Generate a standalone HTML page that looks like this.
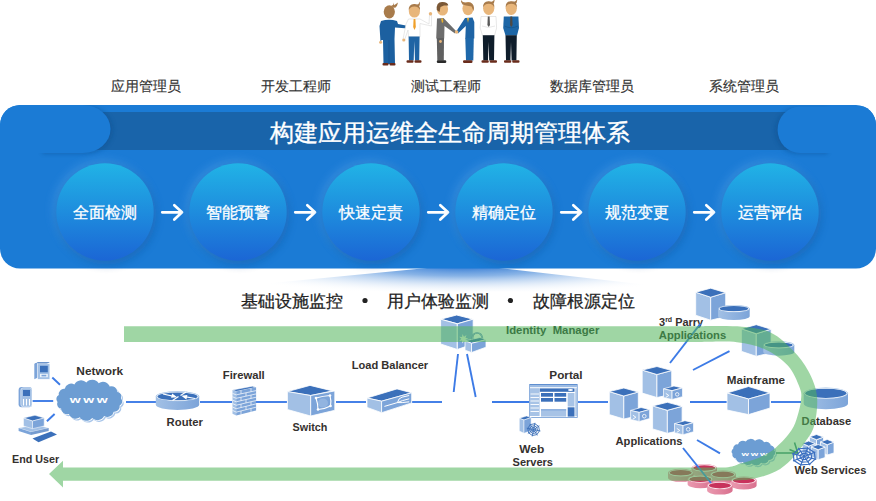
<!DOCTYPE html>
<html><head><meta charset="utf-8"><style>
html,body{margin:0;padding:0;background:#fff;width:876px;height:501px;overflow:hidden}
svg{display:block;font-family:"Liberation Sans",sans-serif}
</style></head><body>
<svg width="876" height="501" viewBox="0 0 876 501">
<path d="M381,21 Q389,18.5 397,21 L398,24 L408.5,26 L408,28.5 L395,27.5 L394.5,39 L395,64 L383.5,64 L383,40 L381.5,40 L380.5,42 L379.5,26 Z" fill="#1c60a0"/><circle cx="408.8" cy="26.2" r="1.6" fill="#e8b67b"/><circle cx="380.6" cy="42.3" r="1.5" fill="#e8b67b"/><line x1="389" y1="40" x2="389" y2="64" stroke="#174f86" stroke-width="0.6"/><rect x="382.5" y="63" width="6.0" height="2.6" rx="1" fill="#6a2c1c"/><rect x="389.5" y="63" width="6.0" height="2.6" rx="1" fill="#6a2c1c"/><ellipse cx="389.3" cy="11.8" rx="5.6" ry="6.6" fill="#a87b4b"/><path d="M391.3,5.800000000000001 Q394.3,4.800000000000001 393.425,2.3000000000000007 Q395.3,6.800000000000001 393.3,7.800000000000001 Z" fill="#a87b4b"/><path d="M392,6 Q395,5 398,2.5 Q397.5,6.5 395,8 Z" fill="#a87b4b"/><path d="M408.5,19 L420,19 L429,24 L429.5,15 L431.5,15 L431.5,26 L420,23.5 L420,37 L408.5,37 L408,30 L404.5,40 L403,39.5 L406,24 Z" fill="#fff" stroke="#d8d8d8" stroke-width="0.6"/><circle cx="430.5" cy="13.8" r="1.7" fill="#e8b67b"/><circle cx="403.8" cy="40" r="1.6" fill="#e8b67b"/><path d="M413.6,19 L415.4,19 L415.8,27 L414.5,30 L413.2,27 Z" fill="#f0a02a"/><path d="M408.6,36.5 L419.6,36.5 L419.2,60.5 L415,60.5 L414.3,41 L413.7,60.5 L409,60.5 Z" fill="#1f64a4"/><rect x="406.5" y="60.2" width="7.0" height="2.6" rx="1" fill="#6a2c1c"/><rect x="414.5" y="60.2" width="7.0" height="2.6" rx="1" fill="#6a2c1c"/><ellipse cx="414.4" cy="11" rx="5.6" ry="6.6" fill="#e8b67b"/><path d="M408.79999999999995,10.5 Q408.4,3.8 414.4,4 Q420.4,3.8 420.0,10.5 Q418.9,6.5 414.4,6.4 Q409.9,6.5 408.79999999999995,10.5 Z" fill="#a87b4b"/><path d="M416.4,5 Q419.4,4 419.65,1.5 Q420.4,6 418.4,7 Z" fill="#a87b4b"/><path d="M437,18.5 L443.5,18 L456,31 L455,33.5 L444.5,26 L444.2,38.5 L436.2,38.5 Z" fill="#6d6d6d"/><path d="M436.8,38 L444,38 L443.8,60.5 L437.3,60.5 Z" fill="#606060"/><path d="M441,18.5 L443,18.5 L443.3,22 L442,23 Z" fill="#e8b030"/><circle cx="440.5" cy="41.5" r="1.4" fill="#e8b67b"/><rect x="436.8" y="60.3" width="9.5" height="2.6" rx="1.2" fill="#2a2a2a"/><ellipse cx="442.5" cy="9" rx="5.6" ry="6.6" fill="#e8b67b"/><path d="M436.8,10 Q436,2 442,2 Q448,1.8 448.3,5.5 L444,5.5 L440.5,7 L439.5,12 Z" fill="#7b5836"/><path d="M465,18 L472.5,17.5 L474.3,22 L474.3,38.5 L465.3,38.5 L465.8,26 L458,33.5 L456.5,31 Z" fill="#1e64a5"/><path d="M465.3,38 L473.8,38 L473.3,60.5 L466,60.5 Z" fill="#1f68aa"/><circle cx="456.6" cy="32" r="1.8" fill="#e8b67b"/><path d="M467,18 L469,18 L468,23 Z" fill="#e8b030"/><rect x="463" y="60.3" width="9.5" height="2.6" rx="1.2" fill="#6a2c1c"/><ellipse cx="468" cy="8.6" rx="5.6" ry="6.6" fill="#e8b67b"/><path d="M462.5,4.5 Q460.5,2 461,0 Q463,3.3 467,2.4 Q473.5,1.8 474,8 L473.5,11 L471.5,6.5 L466,5.5 Z" fill="#a87b4b"/><path d="M481,16.5 L496,16.5 L496.6,28 L494.5,35.5 L482.5,35.5 L480.2,28 Z" fill="#fff" stroke="#d6d6d6" stroke-width="0.6"/><path d="M482,26 Q488.5,29 495,26" stroke="#e2e2e2" stroke-width="0.8" fill="none"/><path d="M487.8,16.5 L489.6,16.5 L490,25 L488.7,27 L487.4,25 Z" fill="#5a5a5a"/><path d="M482.8,35.3 L494.4,35.3 L494,60.5 L489.2,60.5 L488.6,42 L488,60.5 L483.3,60.5 Z" fill="#0f1d2b"/><rect x="481.5" y="60.2" width="7.25" height="2.6" rx="1" fill="#6a2c1c"/><rect x="489.75" y="60.2" width="7.25" height="2.6" rx="1" fill="#6a2c1c"/><ellipse cx="488.7" cy="8.3" rx="5.6" ry="6.6" fill="#e8b67b"/><path d="M483.09999999999997,7.800000000000001 Q482.7,1.1000000000000005 488.7,1.3000000000000007 Q494.7,1.1000000000000005 494.3,7.800000000000001 Q493.2,3.8000000000000007 488.7,3.700000000000001 Q484.2,3.8000000000000007 483.09999999999997,7.800000000000001 Z" fill="#a87b4b"/><path d="M490.7,2.3000000000000007 Q493.7,1.3000000000000007 494.7,-1.1999999999999993 Q494.7,3.3000000000000007 492.7,4.300000000000001 Z" fill="#a87b4b"/><path d="M503.8,16.5 L518.4,16.5 L519,28 L517,35.5 L505.5,35.5 L503.2,28 Z" fill="#1d66a6"/><path d="M504.5,26 Q511,29.5 518,26" stroke="#17558c" stroke-width="0.8" fill="none"/><path d="M510.4,16.5 L512.2,16.5 L512.6,25 L511.3,27 L510,25 Z" fill="#4f4a44"/><path d="M505.5,35.3 L516.8,35.3 L516.4,60.5 L511.6,60.5 L511,42 L510.4,60.5 L506,60.5 Z" fill="#0f1d2b"/><rect x="504" y="60.2" width="7.25" height="2.6" rx="1" fill="#6a2c1c"/><rect x="512.25" y="60.2" width="7.25" height="2.6" rx="1" fill="#6a2c1c"/><ellipse cx="511.3" cy="8.3" rx="5.6" ry="6.6" fill="#e8b67b"/><path d="M505.7,7.800000000000001 Q505.3,1.1000000000000005 511.3,1.3000000000000007 Q517.3,1.1000000000000005 516.9,7.800000000000001 Q515.8,3.8000000000000007 511.3,3.700000000000001 Q506.8,3.8000000000000007 505.7,7.800000000000001 Z" fill="#a87b4b"/><path d="M513.3,2.3000000000000007 Q516.3,1.3000000000000007 517.3,-1.1999999999999993 Q517.3,3.3000000000000007 515.3,4.300000000000001 Z" fill="#a87b4b"/>
<text x="146" y="91" font-size="14" font-weight="normal" fill="#333" text-anchor="middle" stroke="#333" stroke-width="0.15">应用管理员</text>
<text x="296" y="91" font-size="14" font-weight="normal" fill="#333" text-anchor="middle" stroke="#333" stroke-width="0.15">开发工程师</text>
<text x="446" y="91" font-size="14" font-weight="normal" fill="#333" text-anchor="middle" stroke="#333" stroke-width="0.15">测试工程师</text>
<text x="592" y="91" font-size="14" font-weight="normal" fill="#333" text-anchor="middle" stroke="#333" stroke-width="0.15">数据库管理员</text>
<text x="744" y="91" font-size="14" font-weight="normal" fill="#333" text-anchor="middle" stroke="#333" stroke-width="0.15">系统管理员</text>
<defs>
<linearGradient id="circ" x1="0" y1="0" x2="0" y2="1"><stop offset="0" stop-color="#21b3e6"/><stop offset="1" stop-color="#1b66d5"/></linearGradient>
<filter id="sh" x="-50%" y="-50%" width="200%" height="200%"><feGaussianBlur stdDeviation="4"/></filter>
<filter id="sh2" x="-50%" y="-50%" width="200%" height="200%"><feGaussianBlur stdDeviation="2"/></filter>
<linearGradient id="beam" x1="0" y1="0" x2="0" y2="1"><stop offset="0" stop-color="#7fb0e6"/><stop offset="1" stop-color="#ffffff" stop-opacity="0"/></linearGradient>
<radialGradient id="beamh" cx="0.5" cy="0" r="0.6"><stop offset="0" stop-color="#6aa2e0" stop-opacity="0.9"/><stop offset="1" stop-color="#ffffff" stop-opacity="0"/></radialGradient>
</defs>
<defs><radialGradient id="bm" gradientUnits="userSpaceOnUse" cx="463" cy="266" r="260" gradientTransform="translate(463 266) scale(1 0.11) translate(-463 -266)"><stop offset="0" stop-color="#2f78d4" stop-opacity="1"/><stop offset="0.35" stop-color="#6aa0e0" stop-opacity="0.8"/><stop offset="1" stop-color="#ffffff" stop-opacity="0"/></radialGradient></defs>
<polygon points="427,268 499,268 705,291.5 185,291.5" fill="url(#bm)"/>
<rect x="0" y="105" width="876" height="163.5" rx="20" fill="#1b7bd5"/>
<rect x="90" y="112" width="700" height="38" fill="#1964aa"/>
<defs><clipPath id="pc"><rect x="0" y="105" width="876" height="163.5" rx="20"/></clipPath></defs>
<g clip-path="url(#pc)">
<path d="M40,105 L83,105 A27.5,24 0 0 1 83,153 L40,153 Z" fill="#0d4f8e" opacity="0.45" filter="url(#sh2)" transform="translate(2.5,0.8)"/>
<path d="M20,105 L83,105 A27.5,24 0 0 1 83,153 L0,153 L0,125 A20,20 0 0 1 20,105 Z" fill="#1b7bd5"/>
<path d="M800,107 L830,107 L830,153 L800,153 A22.4,23 0 0 1 800,107 Z" fill="#0d4f8e" opacity="0.45" filter="url(#sh2)" transform="translate(-2.5,0.8)"/>
<path d="M800,106.5 L876,106.5 L876,153 L800,153 A22.4,23.25 0 0 1 800,106.5 Z" fill="#1b7bd5"/>
</g>
<text x="450" y="141" font-size="24" font-weight="normal" fill="#fff" text-anchor="middle" stroke="#fff" stroke-width="0.35">构建应用运维全生命周期管理体系</text>
<circle cx="103" cy="210" r="50" fill="#5aa8ee" opacity="0.45" filter="url(#sh)"/>
<circle cx="106.5" cy="215" r="49.5" fill="#0c4f9a" opacity="0.45" filter="url(#sh)"/>
<circle cx="105" cy="212" r="48.7" fill="url(#circ)"/>
<text x="105" y="218" font-size="16" font-weight="normal" fill="#fff" text-anchor="middle" stroke="#fff" stroke-width="0.3">全面检测</text>
<path d="M162.2,212.3 L182,212.3 M174.3,205.2 L182,212.3 L174.3,219.6" stroke="#fff" stroke-width="2.7" fill="none" stroke-linecap="round" stroke-linejoin="round"/>
<circle cx="236" cy="210" r="50" fill="#5aa8ee" opacity="0.45" filter="url(#sh)"/>
<circle cx="239.5" cy="215" r="49.5" fill="#0c4f9a" opacity="0.45" filter="url(#sh)"/>
<circle cx="238" cy="212" r="48.7" fill="url(#circ)"/>
<text x="238" y="218" font-size="16" font-weight="normal" fill="#fff" text-anchor="middle" stroke="#fff" stroke-width="0.3">智能预警</text>
<path d="M295.2,212.3 L315,212.3 M307.3,205.2 L315,212.3 L307.3,219.6" stroke="#fff" stroke-width="2.7" fill="none" stroke-linecap="round" stroke-linejoin="round"/>
<circle cx="369" cy="210" r="50" fill="#5aa8ee" opacity="0.45" filter="url(#sh)"/>
<circle cx="372.5" cy="215" r="49.5" fill="#0c4f9a" opacity="0.45" filter="url(#sh)"/>
<circle cx="371" cy="212" r="48.7" fill="url(#circ)"/>
<text x="371" y="218" font-size="16" font-weight="normal" fill="#fff" text-anchor="middle" stroke="#fff" stroke-width="0.3">快速定责</text>
<path d="M428.2,212.3 L448,212.3 M440.3,205.2 L448,212.3 L440.3,219.6" stroke="#fff" stroke-width="2.7" fill="none" stroke-linecap="round" stroke-linejoin="round"/>
<circle cx="502" cy="210" r="50" fill="#5aa8ee" opacity="0.45" filter="url(#sh)"/>
<circle cx="505.5" cy="215" r="49.5" fill="#0c4f9a" opacity="0.45" filter="url(#sh)"/>
<circle cx="504" cy="212" r="48.7" fill="url(#circ)"/>
<text x="504" y="218" font-size="16" font-weight="normal" fill="#fff" text-anchor="middle" stroke="#fff" stroke-width="0.3">精确定位</text>
<path d="M561.2,212.3 L581,212.3 M573.3,205.2 L581,212.3 L573.3,219.6" stroke="#fff" stroke-width="2.7" fill="none" stroke-linecap="round" stroke-linejoin="round"/>
<circle cx="635" cy="210" r="50" fill="#5aa8ee" opacity="0.45" filter="url(#sh)"/>
<circle cx="638.5" cy="215" r="49.5" fill="#0c4f9a" opacity="0.45" filter="url(#sh)"/>
<circle cx="637" cy="212" r="48.7" fill="url(#circ)"/>
<text x="637" y="218" font-size="16" font-weight="normal" fill="#fff" text-anchor="middle" stroke="#fff" stroke-width="0.3">规范变更</text>
<path d="M694.2,212.3 L714,212.3 M706.3,205.2 L714,212.3 L706.3,219.6" stroke="#fff" stroke-width="2.7" fill="none" stroke-linecap="round" stroke-linejoin="round"/>
<circle cx="768" cy="210" r="50" fill="#5aa8ee" opacity="0.45" filter="url(#sh)"/>
<circle cx="771.5" cy="215" r="49.5" fill="#0c4f9a" opacity="0.45" filter="url(#sh)"/>
<circle cx="770" cy="212" r="48.7" fill="url(#circ)"/>
<text x="770" y="218" font-size="16" font-weight="normal" fill="#fff" text-anchor="middle" stroke="#fff" stroke-width="0.3">运营评估</text>
<text x="291.5" y="307" font-size="17" font-weight="normal" fill="#222" text-anchor="middle" stroke="#222" stroke-width="0.25">基础设施监控</text>
<circle cx="365" cy="300.5" r="2.6" fill="#222"/>
<text x="438" y="307" font-size="17" font-weight="normal" fill="#222" text-anchor="middle" stroke="#222" stroke-width="0.25">用户体验监测</text>
<circle cx="510.4" cy="300.5" r="2.6" fill="#222"/>
<text x="584" y="307" font-size="17" font-weight="normal" fill="#222" text-anchor="middle" stroke="#222" stroke-width="0.25">故障根源定位</text>
<text x="659" y="325.7" font-size="11" font-weight="bold" fill="#35312e">3<tspan font-size="7" dy="-4">rd</tspan><tspan dy="4" textLength="31" lengthAdjust="spacingAndGlyphs"> Parry</tspan></text>
<line x1="126" y1="402" x2="156" y2="402" stroke="#3d7be6" stroke-width="1.9"/>
<line x1="200" y1="402" x2="232" y2="402" stroke="#3d7be6" stroke-width="1.9"/>
<line x1="256" y1="402" x2="287" y2="402" stroke="#3d7be6" stroke-width="1.9"/>
<line x1="336" y1="402" x2="366" y2="402" stroke="#3d7be6" stroke-width="1.9"/>
<line x1="412" y1="402" x2="442" y2="402" stroke="#3d7be6" stroke-width="1.9"/>
<line x1="492" y1="402" x2="529" y2="402" stroke="#3d7be6" stroke-width="1.9"/>
<line x1="578" y1="402" x2="608" y2="402" stroke="#3d7be6" stroke-width="1.9"/>
<line x1="690" y1="402" x2="727" y2="402" stroke="#3d7be6" stroke-width="1.9"/>
<line x1="771" y1="402" x2="801" y2="402" stroke="#3d7be6" stroke-width="1.9"/>
<line x1="52.3" y1="377.5" x2="60" y2="384.7" stroke="#3d7be6" stroke-width="1.9"/>
<line x1="32.5" y1="401" x2="53.2" y2="401" stroke="#3d7be6" stroke-width="1.9"/>
<line x1="46.9" y1="421.2" x2="54.6" y2="414" stroke="#3d7be6" stroke-width="1.9"/>
<line x1="458" y1="354" x2="453.7" y2="392" stroke="#3d7be6" stroke-width="1.9"/>
<line x1="467" y1="354" x2="475.7" y2="397" stroke="#3d7be6" stroke-width="1.9"/>
<line x1="670" y1="363" x2="700.3" y2="323.8" stroke="#3d7be6" stroke-width="1.9"/>
<line x1="693" y1="370" x2="729.5" y2="351.2" stroke="#3d7be6" stroke-width="1.9"/>
<line x1="697" y1="440" x2="720" y2="453.4" stroke="#3d7be6" stroke-width="1.9"/>
<polygon points="34.3,364 38,362.2 49.9,362.2 46.5,364" fill="#3b70ba"/><polygon points="34.3,364 38,362.2 38,377.5 34.3,379.3" fill="#7ca4d9"/>
<rect x="37.5" y="363.8" width="12.4" height="15.5" fill="#a2c0e5" stroke="#fff" stroke-width="0.6"/><rect x="40" y="365.8" width="7.8" height="6.5" fill="#3b70ba"/><rect x="40" y="374" width="7.8" height="3.2" fill="#fff" opacity="0.8"/><rect x="41.5" y="374.8" width="4.8" height="1.6" fill="#7ca4d9"/>
<rect x="18.6" y="387" width="13.4" height="20.2" rx="3" fill="#7ca4d9"/><rect x="20.8" y="387.8" width="11.2" height="19" rx="2.5" fill="#a2c0e5" stroke="#fff" stroke-width="0.5"/><rect x="23" y="390" width="7" height="6" fill="#3b70ba"/>
<path d="M23.5,399 v6.5 M26.5,399 v6.5 M29.5,399 v6.5" stroke="#fff" stroke-width="1.1"/>
<polygon points="18.6,428 36,424.5 48.7,428 31,432" fill="#a2c0e5" stroke="#fff" stroke-width="0.5"/><polygon points="18.6,428 31,432 31,435 18.6,431" fill="#7ca4d9"/><polygon points="31,432 48.7,428 48.7,431 31,435" fill="#3b70ba" opacity="0.7"/>
<polygon points="23.5,418 35,415.3 44.2,418 32.5,421" fill="#3b70ba" stroke="#fff" stroke-width="0.5"/><polygon points="23.5,418 32.5,421 32.5,428.7 23.5,426" fill="#a2c0e5" stroke="#fff" stroke-width="0.5"/><polygon points="32.5,421 44.2,418 44.2,426 32.5,428.7" fill="#7ca4d9" stroke="#fff" stroke-width="0.5"/>
<polygon points="32.5,438.5 51,431.4 57,434.5 38.5,442.2" fill="#3b70ba"/>
<path d="M121.28,407.32 A5.28,5.28 0 0 1 115.36,413.45 A6.57,6.57 0 0 1 105.71,417.83 A7.49,7.49 0 0 1 93.80,419.82 A7.68,7.68 0 0 1 81.44,419.10 A7.08,7.08 0 0 1 70.51,415.78 A5.90,5.90 0 0 1 62.68,410.38 A4.68,4.68 0 0 1 59.13,403.70 A4.37,4.37 0 0 1 60.42,396.78 A5.28,5.28 0 0 1 66.34,390.65 A6.57,6.57 0 0 1 75.99,386.27 A7.49,7.49 0 0 1 87.90,384.28 A7.68,7.68 0 0 1 100.26,385.00 A7.08,7.08 0 0 1 111.19,388.32 A5.90,5.90 0 0 1 119.02,393.72 A4.68,4.68 0 0 1 122.57,400.40 A4.37,4.37 0 0 1 121.28,407.32 Z" fill="#a9c6ea"/><path d="M120.28,406.22 A5.28,5.28 0 0 1 114.36,412.35 A6.57,6.57 0 0 1 104.71,416.73 A7.49,7.49 0 0 1 92.80,418.72 A7.68,7.68 0 0 1 80.44,418.00 A7.08,7.08 0 0 1 69.51,414.68 A5.90,5.90 0 0 1 61.68,409.28 A4.68,4.68 0 0 1 58.13,402.60 A4.37,4.37 0 0 1 59.42,395.68 A5.28,5.28 0 0 1 65.34,389.55 A6.57,6.57 0 0 1 74.99,385.17 A7.49,7.49 0 0 1 86.90,383.18 A7.68,7.68 0 0 1 99.26,383.90 A7.08,7.08 0 0 1 110.19,387.22 A5.90,5.90 0 0 1 118.02,392.62 A4.68,4.68 0 0 1 121.57,399.30 A4.37,4.37 0 0 1 120.28,406.22 Z" fill="#fff"/><path d="M119.68,405.52 A5.28,5.28 0 0 1 113.76,411.65 A6.57,6.57 0 0 1 104.11,416.03 A7.49,7.49 0 0 1 92.20,418.02 A7.68,7.68 0 0 1 79.84,417.30 A7.08,7.08 0 0 1 68.91,413.98 A5.90,5.90 0 0 1 61.08,408.58 A4.68,4.68 0 0 1 57.53,401.90 A4.37,4.37 0 0 1 58.82,394.98 A5.28,5.28 0 0 1 64.74,388.85 A6.57,6.57 0 0 1 74.39,384.47 A7.49,7.49 0 0 1 86.30,382.48 A7.68,7.68 0 0 1 98.66,383.20 A7.08,7.08 0 0 1 109.59,386.52 A5.90,5.90 0 0 1 117.42,391.92 A4.68,4.68 0 0 1 120.97,398.60 A4.37,4.37 0 0 1 119.68,405.52 Z" fill="#6c9dd3"/>
<text transform="translate(69.8 403.3) scale(1.65 1)" x="0" y="0" font-size="8.5" font-weight="bold" fill="#fff" letter-spacing="1.6">www</text>
<defs><linearGradient id="g0_1558_3913" x1="0" x2="1"><stop offset="0" stop-color="#a2c0e5"/><stop offset="1" stop-color="#7ca4d9"/></linearGradient></defs><path d="M155.8,396.40000000000003 L155.8,404.8 A21.7,5.1 0 0 0 199.20000000000002,404.8 L199.20000000000002,396.40000000000003 Z" fill="url(#g0_1558_3913)"/><ellipse cx="177.5" cy="396.40000000000003" rx="21.7" ry="5.1" fill="#a2c0e5"/><ellipse cx="177.5" cy="396.40000000000003" rx="20.9" ry="4.5" fill="#fff"/><ellipse cx="177.5" cy="396.40000000000003" rx="20.099999999999998" ry="3.8999999999999995" fill="#3b70ba"/>
<g stroke="#fff" stroke-width="1.2" fill="#fff"><path d="M163,394 L175,396.6"/><path d="M175.5,396.7 l-3,-2.2 l-0.6,2.6 Z"/><path d="M195,398.5 L183.5,396.3"/><path d="M183,396.2 l3,2.2 l0.6,-2.6 Z"/><path d="M172.5,400.5 L178.5,396.5"/><path d="M186,392 L180.5,395.5"/></g>
<polygon points="232.5,390 252.5,386.2 256.1,387.3 236.2,391.4" fill="#3b70ba" stroke="#fff" stroke-width="0.5"/><polygon points="232.5,390 236.2,391.4 236.2,415.6 232.5,413.8" fill="#a2c0e5"/><polygon points="236.2,391.4 256.1,387.3 256.1,410.5 236.2,415.6" fill="#7ca4d9"/>
<path d="M236.2,394.86 L256.1,390.61 M232.5,393.40 L236.2,394.86 M236.2,398.31 L256.1,393.93 M232.5,396.80 L236.2,398.31 M236.2,401.77 L256.1,397.24 M232.5,400.20 L236.2,401.77 M236.2,405.23 L256.1,400.56 M232.5,403.60 L236.2,405.23 M236.2,408.69 L256.1,403.87 M232.5,407.00 L236.2,408.69 M236.2,412.14 L256.1,407.19 M232.5,410.40 L236.2,412.14 M241,390.41 L241,393.83 M251,388.35 L251,391.70 M246,392.77 L246,396.15  M241,397.26 L241,400.68 M251,395.05 L251,398.40 M246,399.54 L246,402.93  M241,404.10 L241,407.52 M251,401.75 L251,405.11 M246,406.31 L246,409.70  M241,410.95 L241,414.37 M251,408.46 L251,411.81" stroke="#fff" stroke-width="0.7" fill="none"/>
<polygon points="287.4,391.6 310,385.4 332.5,390.9 310.7,395.5" fill="#3b70ba" stroke="#fff" stroke-width="0.8"/><polygon points="287.4,391.6 310.7,395.5 310.7,416 287.4,409.5" fill="#a2c0e5" stroke="#fff" stroke-width="0.8"/><polygon points="310.7,395.5 334.8,390.9 334.8,410.3 310.7,416" fill="#7ca4d9" stroke="#fff" stroke-width="0.8"/>
<g stroke="#fff" stroke-width="1.1" fill="none"><ellipse cx="323" cy="403" rx="5" ry="4.6" fill="#a2c0e5" stroke="none" opacity="0.6"/><path d="M316,398 Q323,396 330,395.5 M316,398 Q318,404 318,409.5 M318,409.5 Q325,409 330.5,406 M330,395.5 Q331.5,401 330.5,406"/></g>
<g fill="#fff"><circle cx="316" cy="398" r="1.3"/><circle cx="330" cy="395.5" r="1.3"/><circle cx="318" cy="409.5" r="1.3"/><circle cx="330.5" cy="406" r="1.3"/></g>
<polygon points="367,398 397,388.9 411.7,392.8 381.6,401.2" fill="#3b70ba" stroke="#fff" stroke-width="0.8"/><polygon points="367,398 381.6,401.2 381.6,412.7 367,407.4" fill="#a2c0e5" stroke="#fff" stroke-width="0.8"/><polygon points="381.6,401.2 411.7,392.8 411.7,402.9 381.6,412.7" fill="#7ca4d9" stroke="#fff" stroke-width="0.8"/>
<path d="M384.4,406.4 L397.4,402.6 Q398.5,398 402,397.2 L409.2,395.5 M397.4,402.6 Q400,401.5 402.5,400.6 L409.2,398.8 M397.4,402.6 Q401,403 409.2,401.8" stroke="#fff" stroke-width="1" fill="none"/>
<polygon points="440.6,319.2 456.7,315 473.2,319.2 457.3,323.8" fill="#3b70ba" stroke="#fff" stroke-width="0.9"/><polygon points="440.6,319.2 457.3,323.8 457.3,349.5 440.6,344" fill="#a2c0e5" stroke="#fff" stroke-width="0.9"/><polygon points="457.3,323.8 473.2,319.2 473.2,344 457.3,349.5" fill="#7ca4d9" stroke="#fff" stroke-width="0.9"/>
<polygon points="465,340.8 480,337.5 486,339.8 471.5,343.3" fill="#3b70ba" stroke="#fff" stroke-width="0.8"/><polygon points="465,340.8 471.5,343.3 471.5,352.5 465,350.2" fill="#a2c0e5" stroke="#fff" stroke-width="0.8"/><polygon points="471.5,343.3 486,339.8 486,347.2 471.5,352.5" fill="#7ca4d9" stroke="#fff" stroke-width="0.8"/>
<path d="M472.5,340 Q472,333.5 476.5,333 Q481.5,332.5 482.5,338.5" stroke="#3b70ba" stroke-width="1.6" fill="none"/><path d="M472.5,340 Q472,333.5 476.5,333 Q481.5,332.5 482.5,338.5" stroke="#fff" stroke-width="0.5" fill="none"/>
<polygon points="468.30,338.80 465.48,339.75 466.49,342.55 463.99,340.94 462.43,343.48 462.13,340.52 459.18,340.88 461.30,338.80 459.18,336.72 462.13,337.08 462.43,334.12 463.99,336.66 466.49,335.05 465.48,337.85" fill="#e9f3e6"/>
<rect x="529.3" y="384" width="48.3" height="33.8" fill="#5f8fd0"/><rect x="530" y="385.6" width="46.9" height="31.5" fill="#fff"/>
<rect x="530" y="385.6" width="46.9" height="1.6" fill="#9dbce4"/>
<rect x="530" y="388.2" width="9.6" height="27.8" fill="#a7c3e6"/>
<path d="M530.5,394 h8.6 M530.5,397.5 h8.6 M530.5,401 h8.6 M530.5,404.5 h8.6 M530.5,408 h8.6 M530.5,411.5 h8.6" stroke="#fff" stroke-width="0.9"/>
<rect x="539.8" y="388.4" width="34.7" height="3.4" fill="#3b70ba"/><ellipse cx="570.5" cy="390" rx="2.5" ry="0.9" fill="#fff"/>
<rect x="541" y="393" width="12" height="3.7" fill="#3b70ba"/><rect x="554.5" y="393" width="11.7" height="3.7" fill="#3b70ba"/><rect x="541" y="398" width="12" height="3.7" fill="#3b70ba"/><rect x="554.5" y="398" width="11.7" height="3.7" fill="#3b70ba"/>
<rect x="541" y="409.7" width="25.2" height="6.9" fill="#a7c3e6"/><rect x="541" y="409.2" width="25.2" height="1.2" fill="#7ca4d9"/>
<rect x="567.7" y="393" width="6.8" height="13.5" fill="#a7c3e6"/><rect x="567.7" y="407.3" width="6.8" height="9.3" fill="#3b70ba"/>
<rect x="575.3" y="388.2" width="1.6" height="28" fill="#a7c3e6"/>
<polygon points="519.3,418.3 526.5,416 531.1,417.6 524,420" fill="#3b70ba" stroke="#fff" stroke-width="0.5"/><polygon points="519.3,418.3 524,420 524,433.3 519.3,431" fill="#a2c0e5" stroke="#fff" stroke-width="0.5"/><polygon points="524,420 531.1,417.6 531.1,430.5 524,433.3" fill="#7ca4d9" stroke="#fff" stroke-width="0.5"/>
<g stroke="#3b6fb8" stroke-width="0.9" fill="none"><polygon points="539.48,430.79 536.92,434.60 532.41,435.48 528.60,432.92 527.72,428.41 530.28,424.60 534.79,423.72 538.60,426.28"/><polygon points="537.48,430.39 535.79,432.90 532.81,433.48 530.30,431.79 529.72,428.81 531.41,426.30 534.39,425.72 536.90,427.41"/><polygon points="535.72,430.03 534.79,431.40 533.17,431.72 531.80,430.79 531.48,429.17 532.41,427.80 534.03,427.48 535.40,428.41"/><line x1="533.6" y1="429.6" x2="540.36" y2="430.97"/><line x1="533.6" y1="429.6" x2="537.41" y2="435.35"/><line x1="533.6" y1="429.6" x2="532.23" y2="436.36"/><line x1="533.6" y1="429.6" x2="527.85" y2="433.41"/><line x1="533.6" y1="429.6" x2="526.84" y2="428.23"/><line x1="533.6" y1="429.6" x2="529.79" y2="423.85"/><line x1="533.6" y1="429.6" x2="534.97" y2="422.84"/><line x1="533.6" y1="429.6" x2="539.35" y2="425.79"/></g>
<g opacity="1.0"><polygon points="609.3,391.6 623.8,396 623.8,419 609.3,414.6" fill="#a2c0e5" stroke="#fff" stroke-width="0.8"/><polygon points="623.8,396 638.3,392.0 638.3,415.8 623.8,419" fill="#7ca4d9" stroke="#fff" stroke-width="0.8"/><polygon points="609.3,391.6 623.8,388 638.3,392.0 623.8,396" fill="#3b70ba" stroke="#fff" stroke-width="0.8"/></g>
<polygon points="630.6,410.44 641.0500000000001,407.5 649.6,409.46 639.15,412.4" fill="#3b70ba" stroke="#fff" stroke-width="0.7"/><polygon points="630.6,410.44 639.15,412.4 639.15,421.5 630.6,419.54" fill="#a2c0e5" stroke="#fff" stroke-width="0.7"/><polygon points="639.15,412.4 649.6,409.46 649.6,418.56 639.15,421.5" fill="#7ca4d9" stroke="#fff" stroke-width="0.7"/><path d="M632.88,415.2 l3,2 l-3,2" stroke="#fff" stroke-width="0.9" fill="none"/><circle cx="644.28" cy="416.18" r="1.82" fill="none" stroke="#fff" stroke-width="0.8"/>
<g opacity="1.0"><polygon points="642.2,370.1 656.95,374.5 656.95,397.5 642.2,393.1" fill="#a2c0e5" stroke="#fff" stroke-width="0.8"/><polygon points="656.95,374.5 671.7,370.5 671.7,394.3 656.95,397.5" fill="#7ca4d9" stroke="#fff" stroke-width="0.8"/><polygon points="642.2,370.1 656.95,366.5 671.7,370.5 656.95,374.5" fill="#3b70ba" stroke="#fff" stroke-width="0.8"/></g>
<polygon points="663.5,388.835 673.95,386 682.5,387.89 672.05,390.725" fill="#3b70ba" stroke="#fff" stroke-width="0.7"/><polygon points="663.5,388.835 672.05,390.725 672.05,399.5 663.5,397.61" fill="#a2c0e5" stroke="#fff" stroke-width="0.7"/><polygon points="672.05,390.725 682.5,387.89 682.5,396.665 672.05,399.5" fill="#7ca4d9" stroke="#fff" stroke-width="0.7"/><path d="M665.78,393.425 l3,2 l-3,2" stroke="#fff" stroke-width="0.9" fill="none"/><circle cx="677.18" cy="394.37" r="1.7550000000000001" fill="none" stroke="#fff" stroke-width="0.8"/>
<g opacity="1.0"><polygon points="652.6,405.90000000000003 667.35,410.3 667.35,433.3 652.6,428.90000000000003" fill="#a2c0e5" stroke="#fff" stroke-width="0.8"/><polygon points="667.35,410.3 682.1,406.3 682.1,430.1 667.35,433.3" fill="#7ca4d9" stroke="#fff" stroke-width="0.8"/><polygon points="652.6,405.90000000000003 667.35,402.3 682.1,406.3 667.35,410.3" fill="#3b70ba" stroke="#fff" stroke-width="0.8"/></g>
<polygon points="674.5,423.64 684.95,420.7 693.5,422.65999999999997 683.05,425.59999999999997" fill="#3b70ba" stroke="#fff" stroke-width="0.7"/><polygon points="674.5,423.64 683.05,425.59999999999997 683.05,434.7 674.5,432.74" fill="#a2c0e5" stroke="#fff" stroke-width="0.7"/><polygon points="683.05,425.59999999999997 693.5,422.65999999999997 693.5,431.76 683.05,434.7" fill="#7ca4d9" stroke="#fff" stroke-width="0.7"/><path d="M676.78,428.4 l3,2 l-3,2" stroke="#fff" stroke-width="0.9" fill="none"/><circle cx="688.18" cy="429.38" r="1.82" fill="none" stroke="#fff" stroke-width="0.8"/>
<g opacity="1.0"><polygon points="695.7,292.25 710.7,297.2 710.7,320.2 695.7,315.25" fill="#a2c0e5" stroke="#fff" stroke-width="0.8"/><polygon points="710.7,297.2 725.7,292.7 725.7,316.59999999999997 710.7,320.2" fill="#7ca4d9" stroke="#fff" stroke-width="0.8"/><polygon points="695.7,292.25 710.7,288.2 725.7,292.7 710.7,297.2" fill="#3b70ba" stroke="#fff" stroke-width="0.8"/></g>
<defs><linearGradient id="g0_7181_3049" x1="0" x2="1"><stop offset="0" stop-color="#a2c0e5"/><stop offset="1" stop-color="#7ca4d9"/></linearGradient></defs><path d="M718.1,308.7 L718.1,316.29999999999995 A15.8,3.8 0 0 0 749.7,316.29999999999995 L749.7,308.7 Z" fill="url(#g0_7181_3049)"/><ellipse cx="733.9" cy="308.7" rx="15.8" ry="3.8" fill="#a2c0e5"/><ellipse cx="733.9" cy="308.7" rx="15.0" ry="3.1999999999999997" fill="#fff"/><ellipse cx="733.9" cy="308.7" rx="14.200000000000001" ry="2.5999999999999996" fill="#3b70ba"/>
<g opacity="1.0"><polygon points="741.4,328.75 756.25,333.7 756.25,356.3 741.4,351.35" fill="#a2c0e5" stroke="#fff" stroke-width="0.8"/><polygon points="756.25,333.7 771.1,329.2 771.1,352.7 756.25,356.3" fill="#7ca4d9" stroke="#fff" stroke-width="0.8"/><polygon points="741.4,328.75 756.25,324.7 771.1,329.2 756.25,333.7" fill="#3b70ba" stroke="#fff" stroke-width="0.8"/></g>
<defs><linearGradient id="g0_7633_3412" x1="0" x2="1"><stop offset="0" stop-color="#a2c0e5"/><stop offset="1" stop-color="#7ca4d9"/></linearGradient></defs><path d="M763.3,345.0 L763.3,351.9 A15.5,3.8 0 0 0 794.3,351.9 L794.3,345.0 Z" fill="url(#g0_7633_3412)"/><ellipse cx="778.8" cy="345.0" rx="15.5" ry="3.8" fill="#a2c0e5"/><ellipse cx="778.8" cy="345.0" rx="14.7" ry="3.1999999999999997" fill="#fff"/><ellipse cx="778.8" cy="345.0" rx="13.9" ry="2.5999999999999996" fill="#3b70ba"/>
<polygon points="727,393 748.5,386.5 770,393 748.5,399" fill="#3b70ba" stroke="#fff" stroke-width="0.8"/><polygon points="727,393 748.5,399 748.5,414.6 727,410" fill="#a2c0e5" stroke="#fff" stroke-width="0.8"/><polygon points="748.5,399 770,393 770,408 748.5,414.6" fill="#7ca4d9" stroke="#fff" stroke-width="0.8"/>
<defs><linearGradient id="g0_8037_3875" x1="0" x2="1"><stop offset="0" stop-color="#a2c0e5"/><stop offset="1" stop-color="#7ca4d9"/></linearGradient></defs><path d="M803.7,393.3 L803.7,403.5 A22.15,5.8 0 0 0 848.0,403.5 L848.0,393.3 Z" fill="url(#g0_8037_3875)"/><ellipse cx="825.85" cy="393.3" rx="22.15" ry="5.8" fill="#a2c0e5"/><ellipse cx="825.85" cy="393.3" rx="21.349999999999998" ry="5.2" fill="#fff"/><ellipse cx="825.85" cy="393.3" rx="20.549999999999997" ry="4.6" fill="#3b70ba"/>
<path d="M775.26,457.29 A3.98,3.98 0 0 1 770.55,461.65 A5.14,5.14 0 0 1 762.76,464.48 A5.79,5.79 0 0 1 753.45,465.23 A5.65,5.65 0 0 1 744.46,463.74 A4.77,4.77 0 0 1 737.56,460.31 A3.60,3.60 0 0 1 734.13,455.63 A3.14,3.14 0 0 1 734.84,450.61 A3.98,3.98 0 0 1 739.55,446.25 A5.14,5.14 0 0 1 747.34,443.42 A5.79,5.79 0 0 1 756.65,442.67 A5.65,5.65 0 0 1 765.64,444.16 A4.77,4.77 0 0 1 772.54,447.59 A3.60,3.60 0 0 1 775.97,452.27 A3.14,3.14 0 0 1 775.26,457.29 Z" fill="#a9c6ea"/><path d="M774.26,456.19 A3.98,3.98 0 0 1 769.55,460.55 A5.14,5.14 0 0 1 761.76,463.38 A5.79,5.79 0 0 1 752.45,464.13 A5.65,5.65 0 0 1 743.46,462.64 A4.77,4.77 0 0 1 736.56,459.21 A3.60,3.60 0 0 1 733.13,454.53 A3.14,3.14 0 0 1 733.84,449.51 A3.98,3.98 0 0 1 738.55,445.15 A5.14,5.14 0 0 1 746.34,442.32 A5.79,5.79 0 0 1 755.65,441.57 A5.65,5.65 0 0 1 764.64,443.06 A4.77,4.77 0 0 1 771.54,446.49 A3.60,3.60 0 0 1 774.97,451.17 A3.14,3.14 0 0 1 774.26,456.19 Z" fill="#fff"/><path d="M773.66,455.49 A3.98,3.98 0 0 1 768.95,459.85 A5.14,5.14 0 0 1 761.16,462.68 A5.79,5.79 0 0 1 751.85,463.43 A5.65,5.65 0 0 1 742.86,461.94 A4.77,4.77 0 0 1 735.96,458.51 A3.60,3.60 0 0 1 732.53,453.83 A3.14,3.14 0 0 1 733.24,448.81 A3.98,3.98 0 0 1 737.95,444.45 A5.14,5.14 0 0 1 745.74,441.62 A5.79,5.79 0 0 1 755.05,440.87 A5.65,5.65 0 0 1 764.04,442.36 A4.77,4.77 0 0 1 770.94,445.79 A3.60,3.60 0 0 1 774.37,450.47 A3.14,3.14 0 0 1 773.66,455.49 Z" fill="#6c9dd3"/>
<text transform="translate(741.5 455.5) scale(1.6 1)" x="0" y="0" font-size="6" font-weight="bold" fill="#fff" letter-spacing="1.1">www</text>
<g opacity="1.0"><polygon points="809.5,436.84 816.5,439.7 816.5,449.5 809.5,446.64" fill="#a2c0e5" stroke="#fff" stroke-width="0.8"/><polygon points="816.5,439.7 823.5,437.1 823.5,447.42 816.5,449.5" fill="#7ca4d9" stroke="#fff" stroke-width="0.8"/><polygon points="809.5,436.84 816.5,434.5 823.5,437.1 816.5,439.7" fill="#3b70ba" stroke="#fff" stroke-width="0.8"/></g>
<g opacity="1.0"><polygon points="820.5,441.84 827.25,444.7 827.25,455.0 820.5,452.14" fill="#a2c0e5" stroke="#fff" stroke-width="0.8"/><polygon points="827.25,444.7 834.0,442.1 834.0,452.92 827.25,455.0" fill="#7ca4d9" stroke="#fff" stroke-width="0.8"/><polygon points="820.5,441.84 827.25,439.5 834.0,442.1 827.25,444.7" fill="#3b70ba" stroke="#fff" stroke-width="0.8"/></g>
<g opacity="1.0"><polygon points="802.2,443.34 808.7,446.2 808.7,456.5 802.2,453.64" fill="#a2c0e5" stroke="#fff" stroke-width="0.8"/><polygon points="808.7,446.2 815.2,443.6 815.2,454.42 808.7,456.5" fill="#7ca4d9" stroke="#fff" stroke-width="0.8"/><polygon points="802.2,443.34 808.7,441 815.2,443.6 808.7,446.2" fill="#3b70ba" stroke="#fff" stroke-width="0.8"/></g>
<g opacity="1.0"><polygon points="811.3,446.84 818.1999999999999,449.7 818.1999999999999,459.7 811.3,456.84" fill="#a2c0e5" stroke="#fff" stroke-width="0.8"/><polygon points="818.1999999999999,449.7 825.0999999999999,447.1 825.0999999999999,457.62 818.1999999999999,459.7" fill="#7ca4d9" stroke="#fff" stroke-width="0.8"/><polygon points="811.3,446.84 818.1999999999999,444.5 825.0999999999999,447.1 818.1999999999999,449.7" fill="#3b70ba" stroke="#fff" stroke-width="0.8"/></g>
<path d="M776,453 L797.5,453 M794.5,442.5 L797.8,453 L789.5,449.5" stroke="#3a8a7a" stroke-width="1.6" fill="none"/>
<defs><linearGradient id="g0_6915_4640" x1="0" x2="1"><stop offset="0" stop-color="#ea9ab0"/><stop offset="1" stop-color="#d9708e"/></linearGradient></defs><path d="M691.5,468 L691.5,473 A12.75,4 0 0 0 717.0,473 L717.0,468 Z" fill="url(#g0_6915_4640)"/><ellipse cx="704.25" cy="468" rx="12.75" ry="4" fill="#ea9ab0"/><ellipse cx="704.25" cy="468" rx="11.95" ry="3.4" fill="#fff"/><ellipse cx="704.25" cy="468" rx="11.15" ry="2.8" fill="#c8325c"/>
<defs><linearGradient id="g0_6680_4688" x1="0" x2="1"><stop offset="0" stop-color="#ea9ab0"/><stop offset="1" stop-color="#d9708e"/></linearGradient></defs><path d="M668,472.8 L668,477.8 A12.75,4 0 0 0 693.5,477.8 L693.5,472.8 Z" fill="url(#g0_6680_4688)"/><ellipse cx="680.75" cy="472.8" rx="12.75" ry="4" fill="#ea9ab0"/><ellipse cx="680.75" cy="472.8" rx="11.95" ry="3.4" fill="#fff"/><ellipse cx="680.75" cy="472.8" rx="11.15" ry="2.8" fill="#c8325c"/>
<defs><linearGradient id="g0_7103_4704" x1="0" x2="1"><stop offset="0" stop-color="#ea9ab0"/><stop offset="1" stop-color="#d9708e"/></linearGradient></defs><path d="M710.3,474.4 L710.3,479.4 A12.75,4 0 0 0 735.8,479.4 L735.8,474.4 Z" fill="url(#g0_7103_4704)"/><ellipse cx="723.05" cy="474.4" rx="12.75" ry="4" fill="#ea9ab0"/><ellipse cx="723.05" cy="474.4" rx="11.95" ry="3.4" fill="#fff"/><ellipse cx="723.05" cy="474.4" rx="11.15" ry="2.8" fill="#c8325c"/>
<defs><linearGradient id="g0_6876_4752" x1="0" x2="1"><stop offset="0" stop-color="#ea9ab0"/><stop offset="1" stop-color="#d9708e"/></linearGradient></defs><path d="M687.6,479.2 L687.6,484.2 A12.75,4 0 0 0 713.1,484.2 L713.1,479.2 Z" fill="url(#g0_6876_4752)"/><ellipse cx="700.35" cy="479.2" rx="12.75" ry="4" fill="#ea9ab0"/><ellipse cx="700.35" cy="479.2" rx="11.95" ry="3.4" fill="#fff"/><ellipse cx="700.35" cy="479.2" rx="11.15" ry="2.8" fill="#c8325c"/>
<defs><linearGradient id="g0_7311_4764" x1="0" x2="1"><stop offset="0" stop-color="#ea9ab0"/><stop offset="1" stop-color="#d9708e"/></linearGradient></defs><path d="M731.1,480.4 L731.1,485.4 A12.75,4 0 0 0 756.6,485.4 L756.6,480.4 Z" fill="url(#g0_7311_4764)"/><ellipse cx="743.85" cy="480.4" rx="12.75" ry="4" fill="#ea9ab0"/><ellipse cx="743.85" cy="480.4" rx="11.95" ry="3.4" fill="#fff"/><ellipse cx="743.85" cy="480.4" rx="11.15" ry="2.8" fill="#c8325c"/>
<defs><linearGradient id="g0_7071_4816" x1="0" x2="1"><stop offset="0" stop-color="#ea9ab0"/><stop offset="1" stop-color="#d9708e"/></linearGradient></defs><path d="M707.1,485.6 L707.1,490.6 A12.75,4 0 0 0 732.6,490.6 L732.6,485.6 Z" fill="url(#g0_7071_4816)"/><ellipse cx="719.85" cy="485.6" rx="12.75" ry="4" fill="#ea9ab0"/><ellipse cx="719.85" cy="485.6" rx="11.95" ry="3.4" fill="#fff"/><ellipse cx="719.85" cy="485.6" rx="11.15" ry="2.8" fill="#c8325c"/>
<line x1="683" y1="448" x2="711" y2="483" stroke="#3d7be6" stroke-width="1.9"/>
<text x="801.6" y="425.1" font-size="11" font-weight="bold" fill="#35312e" textLength="49.7" lengthAdjust="spacingAndGlyphs">Database</text>
<path d="M124,326.2 L700,326.2 C707.00,326.28 730.17,325.62 742.00,326.70 C753.83,327.78 762.50,328.72 771.00,332.70 C779.50,336.68 786.78,344.22 793.00,350.60 C799.22,356.98 804.30,363.43 808.30,371.00 C812.30,378.57 816.02,386.92 817.00,396.00 C817.98,405.08 816.22,417.77 814.20,425.50 C812.18,433.23 808.72,436.75 804.90,442.40 C801.08,448.05 796.12,454.58 791.30,459.40 C786.48,464.22 781.80,468.18 776.00,471.30 C770.20,474.42 762.50,476.60 756.50,478.10 C750.50,479.60 749.42,479.85 740.00,480.30 C730.58,480.75 706.67,480.72 700.00,480.80 L63,480.8 L63,487.5 L49,474 L63,460.8 L63,467.4 L700,467.4 C704.67,467.37 721.27,467.83 728.00,467.20 C734.73,466.57 735.23,465.18 740.40,463.60 C745.57,462.02 753.07,460.38 759.00,457.70 C764.93,455.02 770.62,452.02 776.00,447.50 C781.38,442.98 787.72,435.85 791.30,430.60 C794.88,425.35 795.88,421.10 797.50,416.00 C799.12,410.90 800.62,404.67 801.00,400.00 C801.38,395.33 801.97,393.70 799.80,388.00 C797.63,382.30 793.67,372.18 788.00,365.80 C782.33,359.42 774.30,353.63 765.80,349.70 C757.30,345.77 747.97,343.48 737.00,342.20 C726.03,340.92 706.17,342.03 700.00,342.00 L124,342 Z" fill="#50b45a" opacity="0.55"/>
<g stroke="#3b6fc0" stroke-width="1.2" fill="none"><polygon points="815.19,459.10 809.57,464.28 800.80,464.91 794.03,460.61 793.21,453.90 798.83,448.72 807.60,448.09 814.37,452.39"/><polygon points="811.67,458.27 807.85,461.79 801.89,462.22 797.28,459.29 796.73,454.73 800.55,451.21 806.51,450.78 811.12,453.71"/><polygon points="808.37,457.49 806.24,459.46 802.91,459.69 800.33,458.06 800.03,455.51 802.16,453.54 805.49,453.31 808.07,454.94"/><line x1="804.2" y1="456.5" x2="816.29" y2="459.36"/><line x1="804.2" y1="456.5" x2="810.10" y2="465.06"/><line x1="804.2" y1="456.5" x2="800.46" y2="465.75"/><line x1="804.2" y1="456.5" x2="793.01" y2="461.02"/><line x1="804.2" y1="456.5" x2="792.11" y2="453.64"/><line x1="804.2" y1="456.5" x2="798.30" y2="447.94"/><line x1="804.2" y1="456.5" x2="807.94" y2="447.25"/><line x1="804.2" y1="456.5" x2="815.39" y2="451.98"/></g>
<text x="76.3" y="374.7" font-size="11" font-weight="bold" fill="#35312e" textLength="46.89999999999999" lengthAdjust="spacingAndGlyphs" >Network</text>
<text x="12.1" y="462.7" font-size="11" font-weight="bold" fill="#35312e" textLength="47.099999999999994" lengthAdjust="spacingAndGlyphs" >End User</text>
<text x="166.6" y="426.1" font-size="11" font-weight="bold" fill="#35312e" textLength="36.39999999999999" lengthAdjust="spacingAndGlyphs" >Router</text>
<text x="222.79999999999998" y="379.2" font-size="11" font-weight="bold" fill="#35312e" textLength="41.90000000000002" lengthAdjust="spacingAndGlyphs" >Firewall</text>
<text x="292.6" y="431.2" font-size="11" font-weight="bold" fill="#35312e" textLength="34.8" lengthAdjust="spacingAndGlyphs" >Switch</text>
<text x="351.8" y="368.9" font-size="11" font-weight="bold" fill="#35312e" textLength="76.40000000000002" lengthAdjust="spacingAndGlyphs" >Load Balancer</text>
<text x="549.3000000000001" y="379.3" font-size="11" font-weight="bold" fill="#35312e" textLength="33.3" lengthAdjust="spacingAndGlyphs" >Portal</text>
<text x="519.2" y="452.6" font-size="11" font-weight="bold" fill="#35312e" textLength="24.999999999999932" lengthAdjust="spacingAndGlyphs" >Web</text>
<text x="512.6" y="465.8" font-size="11" font-weight="bold" fill="#35312e" textLength="40.40000000000002" lengthAdjust="spacingAndGlyphs" >Servers</text>
<text x="615.5" y="444.6" font-size="11" font-weight="bold" fill="#35312e" textLength="67.00000000000004" lengthAdjust="spacingAndGlyphs" >Applications</text>
<text x="726.7" y="383.5" font-size="11" font-weight="bold" fill="#35312e" textLength="58.3" lengthAdjust="spacingAndGlyphs" >Mainframe</text>
<text x="794.5" y="473.7" font-size="11" font-weight="bold" fill="#35312e" textLength="71.90000000000002" lengthAdjust="spacingAndGlyphs" >Web Services</text>
<text x="506.0" y="333.5" font-size="11" font-weight="bold" fill="#3c7a45" textLength="93.3" lengthAdjust="spacingAndGlyphs" xml:space="preserve">Identity  Manager</text>
<text x="658.8000000000001" y="339.4" font-size="11" font-weight="bold" fill="#3c7a45" textLength="67.3999999999999" lengthAdjust="spacingAndGlyphs" >Applications</text>
</svg></body></html>
